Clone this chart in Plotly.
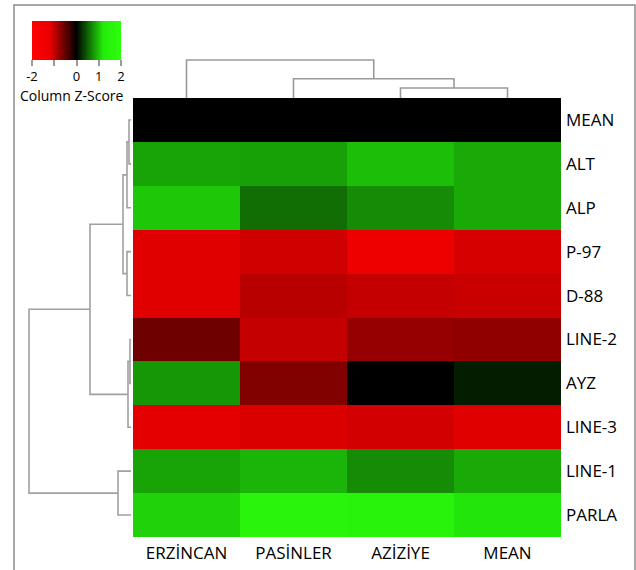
import plotly.graph_objects as go

W, H = 636, 570

columns = ["ERZİNCAN", "PASİNLER", "AZİZİYE", "MEAN"]
rows = ["MEAN", "ALT", "ALP", "P-97", "D-88", "LINE-2", "AYZ", "LINE-3", "LINE-1", "PARLA"]

# Column z-scores, one list per row (values in column order)
z_mean = [0.00, 0.00, 0.00, 0.00]
z_alt = [0.84, 0.82, 0.97, 0.87]
z_alp = [1.02, 0.56, 0.71, 0.87]
z_p97 = [-1.15, -1.05, -1.30, -1.10]
z_d88 = [-1.15, -0.94, -1.00, -1.02]
z_line2 = [-0.56, -1.00, -0.77, -0.74]
z_ayz = [0.77, -0.66, 0.00, 0.15]
z_line3 = [-1.17, -1.12, -1.07, -1.15]
z_line1 = [0.84, 0.92, 0.71, 0.87]
z_parla = [1.07, 1.60, 1.50, 1.17]

# Hierarchical clustering merges (left, right, height); indices >= n refer to earlier merges
col_merges = [(2, 3, 0.50), (1, 4, 0.965), (0, 5, 1.90)]
row_merges = [
    (5, 6, 0.05),
    (0, 1, 0.10),
    (10, 7, 0.15),
    (11, 2, 0.20),
    (3, 4, 0.20),
    (13, 14, 0.40),
    (8, 9, 0.65),
    (15, 12, 2.05),
    (17, 16, 5.10),
]

key_ticks = [-2, -1, 0, 1, 2]
key_labels = ["-2", "", "0", "1", "2"]
key_title = "Column Z-Score"

colorscale = [
    [0.0, "rgb(255,0,0)"],
    [0.2, "rgb(235,0,0)"],
    [0.5, "rgb(0,0,0)"],
    [0.8, "rgb(35,235,10)"],
    [1.0, "rgb(45,255,12)"],
]


def dendro_segments(merges, n):
    """U-shaped segments (position, height) for each merge of a linkage."""
    pos = {i: float(i) for i in range(n)}
    hgt = {i: 0.0 for i in range(n)}
    p_out, h_out = [], []
    for k, (a, b, h) in enumerate(merges):
        p_out += [pos[a], pos[a], pos[b], pos[b], None]
        h_out += [hgt[a], h, h, hgt[b], None]
        pos[n + k] = (pos[a] + pos[b]) / 2
        hgt[n + k] = h
    return p_out, h_out


def px_x(x):
    return x / W


def px_y(y):
    return 1 - y / H


z = [z_mean, z_alt, z_alp, z_p97, z_d88, z_line2, z_ayz, z_line3, z_line1, z_parla]

fig = go.Figure()

fig.add_trace(go.Heatmap(
    z=z,
    x=list(range(len(columns))),
    y=list(range(len(rows))),
    zmin=-2, zmax=2,
    colorscale=colorscale,
    hoverinfo="skip",
    colorbar=dict(
        orientation="h",
        x=px_x(32), xanchor="left",
        y=px_y(21), yanchor="top",
        len=89, lenmode="pixels",
        thickness=39, thicknessmode="pixels",
        xpad=0, ypad=0,
        outlinewidth=0,
        tickvals=key_ticks, ticktext=key_labels,
        ticks="outside", ticklen=6, tickcolor="#9a9a9a", tickwidth=1.5,
        tickfont=dict(size=13, color="black"),
    ),
    xaxis="x", yaxis="y",
))

cx, cy = dendro_segments(col_merges, len(columns))
fig.add_trace(go.Scatter(x=cx, y=cy, mode="lines", xaxis="x2", yaxis="y2",
                         line=dict(color="#9a9a9a", width=1.6), hoverinfo="skip",
                         showlegend=False))

ry, rx = dendro_segments(row_merges, len(rows))
fig.add_trace(go.Scatter(x=rx, y=ry, mode="lines", xaxis="x3", yaxis="y3",
                         line=dict(color="#a0a0a0", width=1.6), hoverinfo="skip",
                         showlegend=False))

hm_x = [px_x(133), px_x(561)]
hm_y = [px_y(537), px_y(98)]
hidden = dict(showgrid=False, zeroline=False, showticklabels=False, ticks="", showline=False)

fig.update_layout(
    width=W, height=H,
    margin=dict(l=0, r=0, t=0, b=0),
    paper_bgcolor="white", plot_bgcolor="white",
    font=dict(family="Open Sans", size=17, color="black"),
    showlegend=False,
    xaxis=dict(domain=hm_x, range=[-0.5, 3.5], tickvals=list(range(len(columns))),
               ticktext=columns, ticks="", showgrid=False, zeroline=False,
               ticklabelstandoff=4, anchor="y"),
    yaxis=dict(domain=hm_y, range=[len(rows) - 0.5, -0.5], tickvals=list(range(len(rows))),
               ticktext=rows, side="right", ticks="", showgrid=False, zeroline=False,
               ticklabelstandoff=4, anchor="x"),
    xaxis2=dict(domain=hm_x, range=[-0.5, 3.5], anchor="y2", **hidden),
    yaxis2=dict(domain=[px_y(98), px_y(58)], range=[0, 2.0], anchor="x2", **hidden),
    xaxis3=dict(domain=[px_x(27), px_x(131)], range=[5.2, 0], anchor="y3", **hidden),
    yaxis3=dict(domain=hm_y, range=[len(rows) - 0.5, -0.5], anchor="x3", **hidden),
    annotations=[dict(text=key_title, xref="paper", yref="paper",
                      x=px_x(71.5), y=px_y(96), xanchor="center", yanchor="middle",
                      showarrow=False, font=dict(size=14, color="black"))],
    shapes=[dict(type="rect", xref="paper", yref="paper",
                 x0=px_x(14), x1=px_x(635), y0=-0.05, y1=px_y(5),
                 line=dict(color="#8c8c8c", width=1.5), layer="below")],
)

fig.write_html("out.html")
